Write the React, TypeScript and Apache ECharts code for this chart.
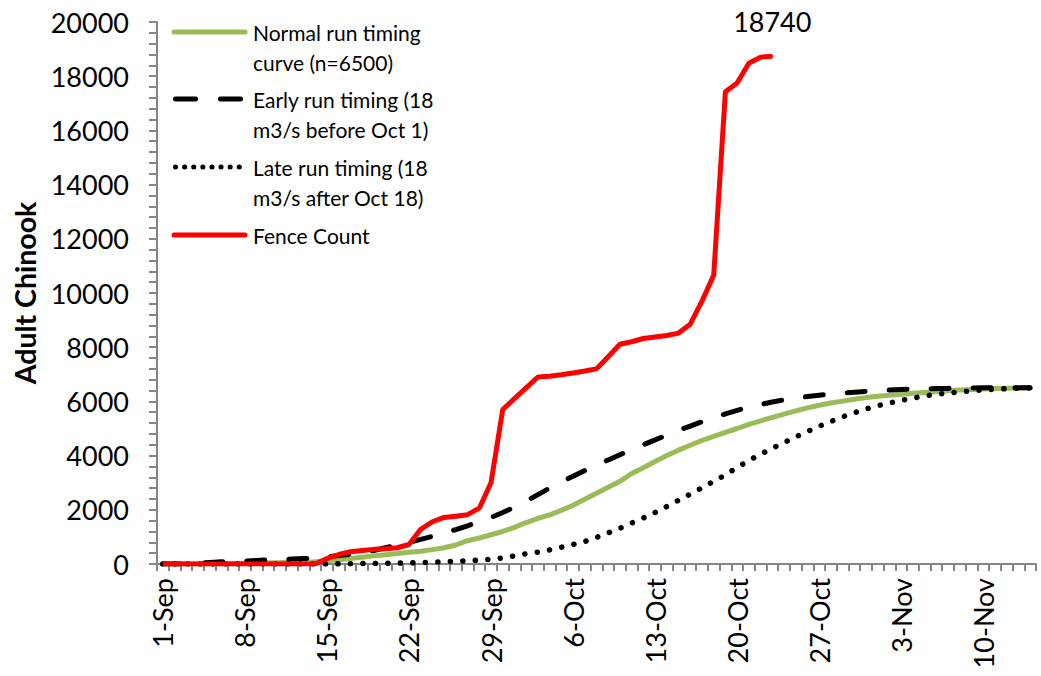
import React, { useEffect, useRef } from "react";
import * as echarts from "echarts";

// Day labels from 1-Sep to 14-Nov (one category per day)
const MONTHS: [string, number][] = [["Sep", 30], ["Oct", 31], ["Nov", 14]];
const categories: string[] = [];
MONTHS.forEach(([m, n]) => {
  for (let d = 1; d <= n; d++) categories.push(`${d}-${m}`);
});

const yTicks = { min: 0, max: 20000, interval: 2000 };

const normalRun = [
  0, 0, 0, 0, 0, 10, 20, 30, 40, 50,
  55, 65, 75, 85, 120, 160, 200, 250, 300, 345,
  390, 430, 470, 530, 600, 700, 860, 960, 1080, 1200,
  1350, 1530, 1680, 1815, 1980, 2170, 2390, 2610, 2830, 3050,
  3340, 3550, 3780, 4000, 4200, 4380, 4560, 4710, 4860, 5000,
  5150, 5280, 5410, 5530, 5650, 5760, 5860, 5940, 6010, 6080,
  6140, 6190, 6230, 6260, 6300, 6330, 6360, 6390, 6420, 6440,
  6460, 6475, 6485, 6492, 6500,
];

const earlyRun = [
  0, 0, 0, 30, 60, 80, 100, 110, 130, 150,
  160, 180, 200, 220, 260, 310, 360, 420, 500, 600,
  700, 800, 910, 1020, 1140, 1270, 1410, 1560, 1720, 1900,
  2100, 2320, 2560, 2800, 3030, 3240, 3450, 3650, 3840, 4030,
  4220, 4400, 4580, 4760, 4930, 5090, 5250, 5400, 5540, 5670,
  5790, 5890, 5980, 6060, 6120, 6180, 6230, 6270, 6310, 6340,
  6370, 6400, 6420, 6440, 6455, 6465, 6475, 6480, 6490, 6495,
  6500, 6500, 6500, 6500, 6500,
];

const lateRun = [
  0, 0, 0, 0, 0, 0, 0, 0, 0, 0,
  0, 0, 0, 0, 0, 5, 10, 15, 20, 25,
  30, 40, 50, 70, 85, 100, 120, 145, 175, 220,
  300, 380, 440, 520, 620, 720, 830, 980, 1150, 1320,
  1510, 1700, 1900, 2120, 2350, 2580, 2810, 3050, 3290, 3560,
  3820, 4050, 4270, 4480, 4690, 4890, 5080, 5260, 5430, 5580,
  5720, 5840, 5940, 6040, 6120, 6200, 6260, 6310, 6350, 6390,
  6420, 6450, 6470, 6490, 6500,
];

const fenceCount = [
  0, 0, 0, 0, 0, 0, 0, 0, 0, 0,
  0, 0, 0, 0, 200, 350, 450, 500, 540, 560,
  600, 720, 1280, 1560, 1720, 1760, 1820, 2060, 3000, 5700,
  6100, 6500, 6900, 6930, 6980, 7050, 7120, 7200, 7650, 8110,
  8200, 8320, 8380, 8430, 8520, 8850, 9700, 10650, 17430, 17750,
  18480, 18700, 18740,
];

const legendItems = [
  { text: "Normal run timing\ncurve (n=6500)", color: "#9BBB59", dash: null as number[] | null, y: 32 },
  { text: "Early run timing (18\nm3/s before Oct 1)", color: "#000000", dash: [20, 25], y: 99 },
  { text: "Late run timing (18\nm3/s after Oct 18)", color: "#000000", dash: [0.1, 9], y: 167 },
  { text: "Fence Count", color: "#FF0000", dash: null, y: 235 },
];

const FONT = "Lato";

export default function App() {
  const ref = useRef<HTMLDivElement>(null);
  useEffect(() => {
    if (!ref.current) return;
    const chart = echarts.init(ref.current, undefined, { renderer: "svg" });
    const lastIdx = fenceCount.length - 1;
    const fenceData: any[] = fenceCount.map((v, i) =>
      i === lastIdx
        ? {
            value: v,
            symbol: "circle",
            symbolSize: 2,
            itemStyle: { color: "#FF0000" },
            label: {
              show: true,
              position: "top",
              distance: 20,
              formatter: String(v),
              fontFamily: FONT,
              fontSize: 27,
              color: "#000",
            },
          }
        : { value: v, symbol: "none" }
    );
    const graphics: any[] = [];
    legendItems.forEach((it) => {
      graphics.push({
        type: "line",
        shape: { x1: it.dash ? 175.5 : 174, y1: it.y, x2: it.dash ? 243 : 245, y2: it.y },
        style: {
          stroke: it.color,
          lineWidth: 5,
          lineDash: it.dash || undefined,
          lineCap: "round",
        },
        z: 100,
      });
      graphics.push({
        type: "text",
        x: 253,
        y: it.y - 15,
        style: {
          text: it.text,
          fontFamily: FONT,
          fontSize: 21,
          lineHeight: 30,
          fill: "#000",
          verticalAlign: "top",
          align: "left",
        },
        z: 100,
      });
    });
    chart.setOption({
      animation: false,
      grid: { left: 157, right: 5, top: 22, bottom: 112, containLabel: false },
      xAxis: {
        type: "category",
        data: categories,
        boundaryGap: true,
        axisLine: { lineStyle: { color: "#868686", width: 2 } },
        axisTick: { show: true, interval: 0, length: 7, lineStyle: { color: "#868686", width: 2 } },
        axisLabel: {
          interval: 6,
          rotate: 90,
          margin: 14,
          fontFamily: FONT,
          fontSize: 27,
          color: "#000",
        },
        splitLine: { show: false },
      },
      yAxis: {
        type: "value",
        min: yTicks.min,
        max: yTicks.max,
        interval: yTicks.interval,
        name: "Adult Chinook",
        nameLocation: "middle",
        nameRotate: 90,
        nameGap: 116,
        nameTextStyle: { fontFamily: FONT, fontSize: 28.5, fontWeight: "bold", color: "#000" },
        axisLine: { show: true, lineStyle: { color: "#868686", width: 2 } },
        axisTick: { show: true, length: 8, lineStyle: { color: "#868686", width: 2 } },
        minorTick: { show: true, splitNumber: 5, length: 8, lineStyle: { color: "#868686", width: 2 } },
        axisLabel: {
          margin: 28,
          fontFamily: FONT,
          fontSize: 27,
          color: "#000",
          formatter: (v: number) => String(v),
        },
        splitLine: { show: false },
        minorSplitLine: { show: false },
      },
      graphic: graphics,
      series: [
        {
          name: "Normal run timing curve (n=6500)",
          type: "line",
          data: normalRun,
          symbol: "none",
          lineStyle: { color: "#9BBB59", width: 5 },
        },
        {
          name: "Early run timing (18 m3/s before Oct 1)",
          type: "line",
          data: earlyRun,
          symbol: "none",
          lineStyle: { color: "#000", width: 5, type: [18, 24], cap: "round" },
        },
        {
          name: "Late run timing (18 m3/s after Oct 18)",
          type: "line",
          data: lateRun,
          symbol: "none",
          lineStyle: { color: "#000", width: 5.5, type: [0.1, 12.4], cap: "round" },
        },
        {
          name: "Fence Count",
          type: "line",
          data: fenceData,
          showSymbol: true,
          itemStyle: { color: "#FF0000" },
          lineStyle: { color: "#FF0000", width: 5 },
        },
      ],
    });
    return () => chart.dispose();
  }, []);
  return (
    <div
      ref={ref}
      style={{ position: "fixed", left: 0, top: 0, width: 1041, height: 676, background: "#fff" }}
    />
  );
}
